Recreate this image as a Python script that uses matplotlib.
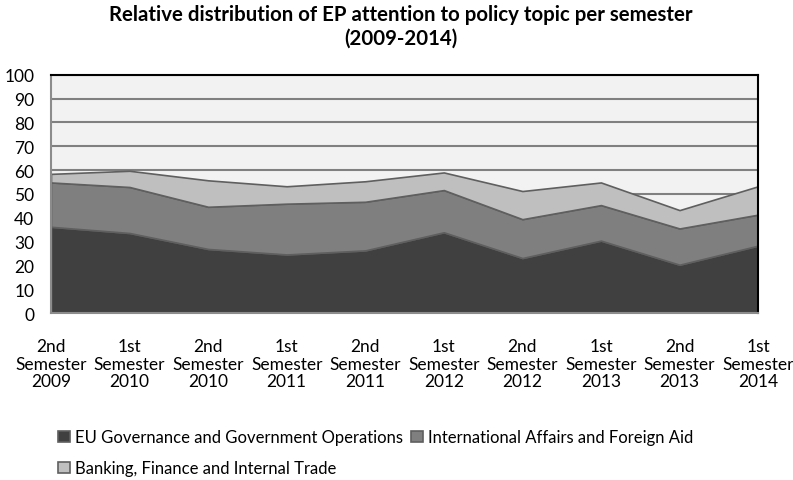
import matplotlib.pyplot as plt

plt.rcParams['font.family'] = ['Lato', 'DejaVu Sans']

semesters = ['2nd\nSemester\n2009', '1st\nSemester\n2010', '2nd\nSemester\n2010',
             '1st\nSemester\n2011', '2nd\nSemester\n2011', '1st\nSemester\n2012',
             '2nd\nSemester\n2012', '1st\nSemester\n2013', '2nd\nSemester\n2013',
             '1st\nSemester\n2014']
eu_gov = [36.2, 33.6, 26.9, 24.6, 26.3, 33.9, 23.1, 30.4, 20.3, 28.3]
intl_aff = [18.6, 19.3, 17.7, 21.3, 20.4, 17.7, 16.3, 14.9, 15.2, 13.0]
banking = [3.6, 6.8, 11.1, 7.3, 8.6, 7.4, 11.8, 9.5, 7.7, 11.9]
labels = ['EU Governance and Government Operations',
          'International Affairs and Foreign Aid',
          'Banking, Finance and Internal Trade']
colors = ['#404040', '#7f7f7f', '#bfbfbf']

fig = plt.figure(figsize=(7.93, 4.81), dpi=100)
ax = fig.add_axes([0.0643, 0.347, 0.8917, 0.4956])
ax.set_facecolor('#f2f2f2')

x = list(range(len(semesters)))
polys = ax.stackplot(x, eu_gov, intl_aff, banking, labels=labels, colors=colors,
                     edgecolor='#5f5f5f', linewidth=1.2, zorder=2)

ax.set_xlim(0, len(semesters) - 1)
ax.set_ylim(0, 100)
ax.set_yticks(range(0, 101, 10))
ax.set_xticks(x)
ax.set_xticklabels(semesters, fontsize=12, linespacing=1.12)
ax.tick_params(axis='both', length=0, labelsize=12.5)
ax.tick_params(axis='y', pad=12)
ax.tick_params(axis='x', pad=18)
ax.grid(axis='y', color='#808080', linewidth=1.5, zorder=1)
ax.set_axisbelow(True)

for side in ['top', 'right']:
    ax.spines[side].set_color('black')
    ax.spines[side].set_linewidth(1.5)
for side in ['left', 'bottom']:
    ax.spines[side].set_color('#8c8c8c')
    ax.spines[side].set_linewidth(1.5)

fig.suptitle('Relative distribution of EP attention to policy topic per semester\n(2009-2014)',
             x=0.505, y=0.99, fontsize=14.7, fontweight='bold', linespacing=1.25)

# column-major fill: put Banking under EU, International next to EU
order = [0, 2, 1]
fig.legend([polys[i] for i in order], [labels[i] for i in order],
           loc='upper left', bbox_to_anchor=(0.063, 0.123), ncol=2, frameon=False,
           fontsize=12, handlelength=0.7, handleheight=0.7, handletextpad=0.3,
           columnspacing=0.5, labelspacing=0.9, borderpad=0)

fig.savefig('out.png', dpi=100)
